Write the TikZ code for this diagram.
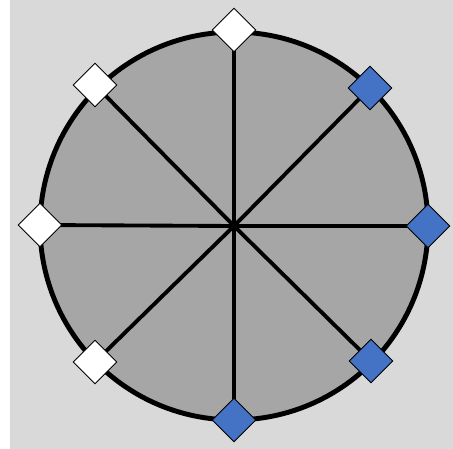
\documentclass[tikz,border=0pt]{standalone}
\usetikzlibrary{shapes.geometric}
\definecolor{bgGray}{HTML}{D9D9D9}
\definecolor{discGray}{HTML}{A6A6A6}
\definecolor{markBlue}{HTML}{4472C4}
\begin{document}
\begin{tikzpicture}[x=0.02cm, y=-0.02cm,
    discStyle/.style={draw, line width=2.8pt, fill=discGray},
    spokeStyle/.style={line width=2.2pt},
    markWhite/.style={draw, diamond, fill=white, line width=0.5pt, inner sep=0pt, minimum width=0.88cm, minimum height=0.88cm},
    markBlue/.style={markWhite, fill=markBlue}]
    \useasboundingbox (0, 0) rectangle (453, 449);
    \fill[bgGray] (10, 0) rectangle (453, 449);

    \coordinate (hub) at (234, 226);
    \draw[discStyle] (hub) circle[radius=3.88cm];

    % points on the rim
    \coordinate (pN) at (234, 30);
    \coordinate (pNE) at (370, 88);
    \coordinate (pE) at (428, 226);
    \coordinate (pSE) at (371, 361);
    \coordinate (pS) at (234, 420);
    \coordinate (pSW) at (95, 362);
    \coordinate (pW) at (40, 225);
    \coordinate (pNW) at (95, 85);

    \foreach \p in {pN, pNE, pE, pSE, pS, pSW, pW, pNW}
        \draw[spokeStyle] (hub) -- (\p);

    \node[markWhite] (mN) at (pN) {};
    \node[markWhite] (mNW) at (pNW) {};
    \node[markWhite] (mW) at (pW) {};
    \node[markWhite] (mSW) at (pSW) {};
    \node[markBlue] (mNE) at (pNE) {};
    \node[markBlue] (mE) at (pE) {};
    \node[markBlue] (mSE) at (pSE) {};
    \node[markBlue] (mS) at (pS) {};
\end{tikzpicture}
\end{document}
